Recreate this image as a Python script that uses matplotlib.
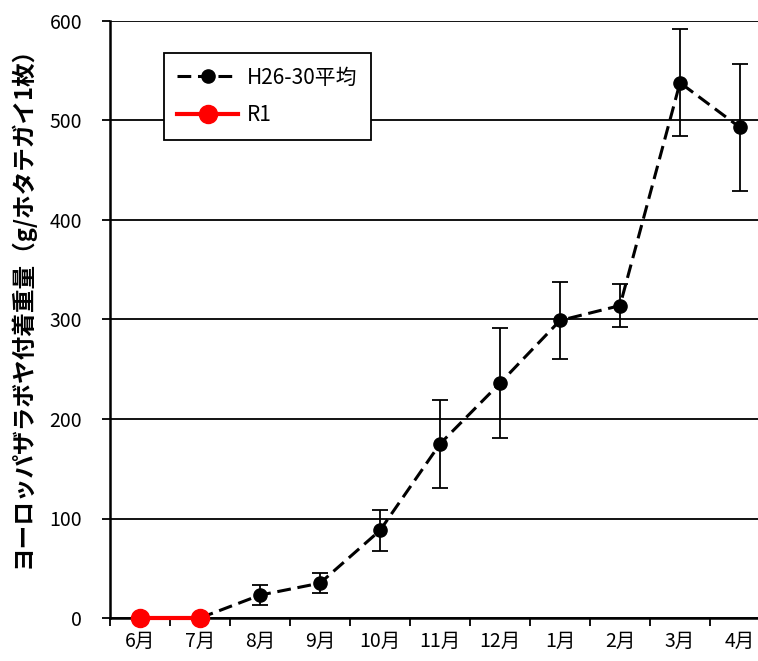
import numpy as np
import matplotlib
matplotlib.use("Agg")
import matplotlib.pyplot as plt
from matplotlib.lines import Line2D

plt.rcParams['font.family'] = ['Noto Sans CJK JP', 'DejaVu Sans']

months = ["6月", "7月", "8月", "9月", "10月", "11月", "12月", "1月", "2月", "3月", "4月"]
avg_vals = [np.nan, 0, 23, 35, 88, 175, 236, 299, 314, 538, 493]
avg_err = [np.nan, np.nan, 10, 10, 21, 44.5, 55, 39, 22, 53.5, 63.5]
r1_vals = [0, 0]
avg_label = "H26-30平均"
r1_label = "R1"
ylabel = "ヨーロッパザラボヤ付着重量（g/ホタテガイ1枚）"
yticks = [0, 100, 200, 300, 400, 500, 600]

fig = plt.figure(figsize=(7.58, 6.61), dpi=100)
ax = fig.add_axes([110/758, 43/661, 648/758, 597/661])

dash = (0, (4.5, 2.2))
x = np.arange(len(months))
ax.errorbar(x, avg_vals, yerr=avg_err, color='black', ls=dash, lw=2.2,
            marker='o', ms=9.5, ecolor='black', elinewidth=1.3, capsize=5.5,
            capthick=1.3, zorder=3)
ax.plot(x[:len(r1_vals)], r1_vals, color='#ff0000', lw=3, marker='o', ms=13,
        zorder=4, clip_on=False)

ax.set_xlim(-0.5, 10.3)
ax.set_ylim(0, 600)
ax.set_yticks(yticks)
ax.set_yticklabels([str(v) for v in yticks], fontsize=14)
ax.yaxis.grid(True, color='black', lw=1.3)
ax.set_axisbelow(True)

ax.set_xticks(np.arange(-0.5, 10.5, 1))
ax.set_xticklabels([])
ax.set_xticks(x, minor=True)
ax.set_xticklabels(months, minor=True, fontsize=14)
ax.tick_params(axis='x', which='minor', length=0, pad=9)
ax.tick_params(axis='x', which='major', length=6, width=1.3, direction='out')
ax.tick_params(axis='y', length=6, width=1.3, direction='out', pad=14)

for s in ['top', 'right']:
    ax.spines[s].set_visible(False)
for s in ['left', 'bottom']:
    ax.spines[s].set_linewidth(1.8)
    ax.spines[s].set_color('black')

ax.set_ylabel(ylabel, fontsize=17, fontweight='bold')
ax.yaxis.set_label_coords(-0.117, 0.53)

handles = [
    Line2D([], [], color='black', ls=dash, lw=2.2, marker='o', ms=9.5),
    Line2D([], [], color='#ff0000', lw=3, marker='o', ms=13),
]
leg = ax.legend(handles, [avg_label, r1_label], loc='upper left',
                bbox_to_anchor=(0.083, 0.946), fontsize=15,
                frameon=True, fancybox=False, edgecolor='black', framealpha=1,
                borderpad=0.65, labelspacing=0.75, handlelength=2.9, handletextpad=0.45,
                borderaxespad=0)
leg.get_frame().set_linewidth(1.3)

fig.savefig("out.png", dpi=100)
